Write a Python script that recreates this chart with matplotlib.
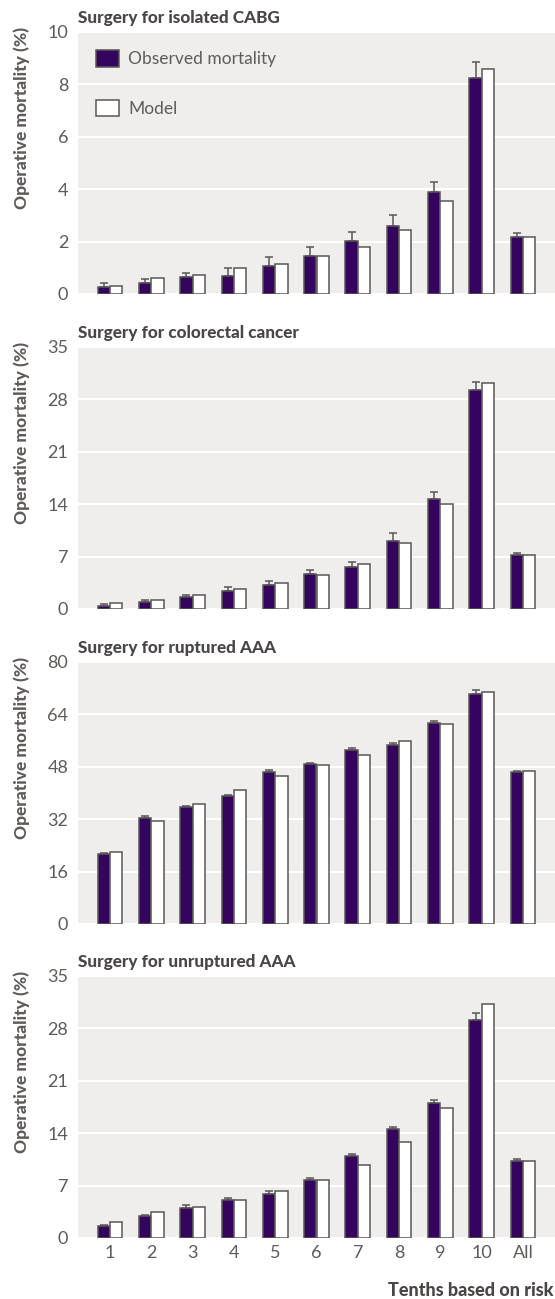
import matplotlib
matplotlib.use("Agg")
import matplotlib.pyplot as plt
import numpy as np

categories = ["1", "2", "3", "4", "5", "6", "7", "8", "9", "10", "All"]

titles = ["Surgery for isolated CABG", "Surgery for colorectal cancer",
          "Surgery for ruptured AAA", "Surgery for unruptured AAA"]

cabg_obs = [0.25, 0.42, 0.64, 0.69, 1.08, 1.46, 2.01, 2.60, 3.89, 8.23, 2.19]
cabg_upper = [0.43, 0.59, 0.80, 0.99, 1.43, 1.81, 2.38, 3.02, 4.29, 8.85, 2.31]
cabg_model = [0.32, 0.60, 0.71, 0.99, 1.16, 1.44, 1.81, 2.46, 3.54, 8.57, 2.19]

colo_obs = [0.40, 0.94, 1.65, 2.46, 3.26, 4.64, 5.67, 9.15, 14.73, 29.24, 7.23]
colo_upper = [0.63, 1.16, 1.83, 2.99, 3.71, 5.27, 6.29, 10.18, 15.58, 30.27, 7.46]
colo_model = [0.80, 1.25, 1.88, 2.68, 3.44, 4.55, 5.98, 8.84, 14.06, 30.13, 7.23]

raaa_obs = [21.45, 32.38, 35.75, 39.22, 46.37, 48.72, 53.2, 54.65, 61.4, 70.3, 46.37]
raaa_upper = [21.65, 33.0, 36.06, 39.43, 46.9, 49.2, 53.6, 55.16, 62.1, 71.5, 46.8]
raaa_model = [21.96, 31.56, 36.77, 41.06, 45.05, 48.62, 51.69, 55.87, 60.98, 70.79, 46.58]

uaaa_obs = [1.56, 2.90, 4.06, 5.13, 5.85, 7.72, 10.94, 14.51, 18.08, 29.1, 10.22]
uaaa_upper = [1.79, 3.08, 4.38, 5.36, 6.34, 8.04, 11.25, 14.78, 18.39, 30.0, 10.54]
uaaa_model = [2.19, 3.44, 4.15, 5.13, 6.34, 7.72, 9.78, 12.81, 17.37, 31.3, 10.22]

ymax = [10, 35, 80, 35]
yticks = [[0, 2, 4, 6, 8, 10], [0, 7, 14, 21, 28, 35],
          [0, 16, 32, 48, 64, 80], [0, 7, 14, 21, 28, 35]]

panels = [(cabg_obs, cabg_upper, cabg_model),
          (colo_obs, colo_upper, colo_model),
          (raaa_obs, raaa_upper, raaa_model),
          (uaaa_obs, uaaa_upper, uaaa_model)]

plt.rcParams['font.family'] = ['Lato', 'DejaVu Sans']

W, H = 555, 1299
fig = plt.figure(figsize=(W / 100, H / 100), dpi=100)

purple = "#35045f"
edge = "#5a5656"
bg = "#efeeec"
txt = "#5f5b59"
title_c = "#4a4645"

tops = [32, 347, 662, 976]
ax_h = 262
left, right = 78, 555

x = np.arange(len(categories))
bw = 0.3

for i, (obs, upper, model) in enumerate(panels):
    top = tops[i]
    ax = fig.add_axes([left / W, 1 - (top + ax_h) / H, (right - left) / W, ax_h / H])
    ax.set_facecolor(bg)
    for s in ax.spines.values():
        s.set_visible(False)
    obs_a = np.array(obs)
    err = np.array(upper) - obs_a
    ax.bar(x - bw / 2, obs_a, width=bw, color=purple, edgecolor=edge,
           linewidth=1.1, zorder=3, label="Observed mortality")
    ax.errorbar(x - bw / 2, obs_a, yerr=[np.zeros_like(err), err], fmt="none",
                ecolor=edge, elinewidth=1.1, capsize=3, capthick=1.1, zorder=2)
    ax.bar(x + bw / 2, model, width=bw, color="white", edgecolor=edge,
           linewidth=1.1, zorder=3, label="Model")
    ax.set_xlim(-0.775, 10.775)
    ax.set_ylim(0, ymax[i])
    ax.set_yticks(yticks[i])
    ax.yaxis.grid(True, color="white", linewidth=1.5, zorder=0)
    ax.set_axisbelow(True)
    ax.tick_params(axis="y", length=0, pad=7, labelsize=13, labelcolor=txt)
    ax.tick_params(axis="x", length=0, pad=5, labelsize=13, labelcolor=txt)
    ax.set_xticks(x)
    if i == 3:
        ax.set_xticklabels(categories)
    else:
        ax.set_xticklabels([])
    ax.set_ylabel("Operative mortality (%)", fontsize=12.5, fontweight="black",
                  color=txt, ha="right")
    ax.yaxis.set_label_coords(-0.1, 1.02)
    ax.text(0, 1.022, titles[i], transform=ax.transAxes, fontsize=12.3,
            fontweight="black", color=title_c, ha="left", va="bottom")
    if i == 0:
        leg = ax.legend(loc="upper left", bbox_to_anchor=(0.006, 0.99),
                        frameon=False, fontsize=12.5, handlelength=1.32,
                        handleheight=1.1, labelspacing=1.85, handletextpad=0.5,
                        labelcolor=txt)

fig.text(554 / W, 1 - 1290 / H, "Tenths based on risk", ha="right", va="center",
         fontsize=13, fontweight="black", color=title_c)

fig.savefig("out.png", dpi=100, facecolor="white")
